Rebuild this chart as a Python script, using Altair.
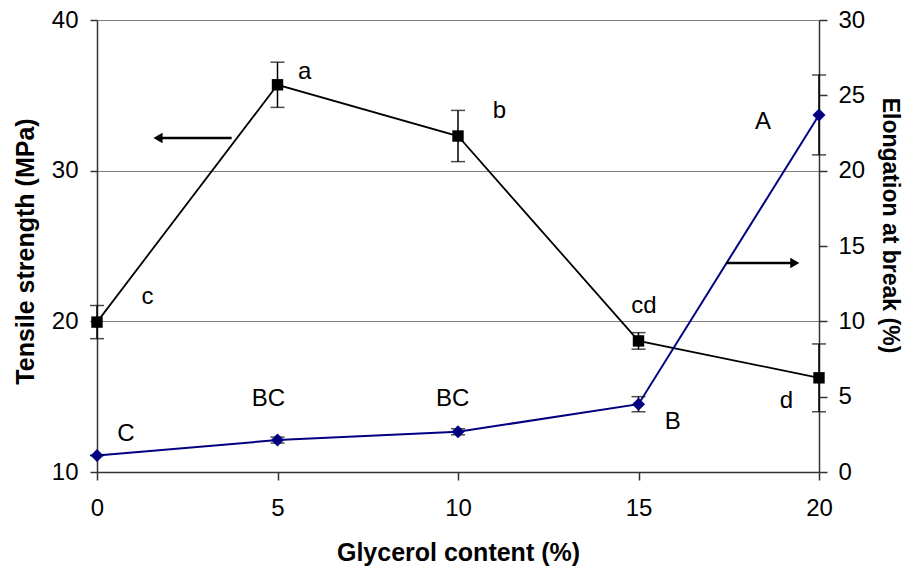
import altair as alt
import pandas as pd

# ---- data ----
glycerol = [0, 5, 10, 15, 20]

tensile = [19.95, 35.7, 32.3, 18.7, 16.25]
tensile_err = [1.1, 1.5, 1.7, 0.55, 2.25]
tensile_letters = ["c", "a", "b", "cd", "d"]
tensile_label_x = [1.4, 5.75, 11.15, 15.15, 19.1]
tensile_label_y = [21.6, 36.55, 33.95, 21.0, 14.7]

elong = [1.1, 2.12, 2.67, 4.5, 23.7]
elong_err = [0.0, 0.2, 0.2, 0.5, 2.65]
elong_letters = ["C", "BC", "BC", "B", "A"]
elong_label_x = [0.8, 4.75, 9.85, 15.95, 18.45]
elong_label_y = [2.5, 4.85, 4.85, 3.35, 23.2]

# arrows (annotation) in data units: [start x, end x, y]
arrow_left = [3.73, 1.69, 32.17]
arrow_right = [17.43, 19.33, 13.87]

x_ticks = [0, 5, 10, 15, 20]
left_ticks = [10, 20, 30, 40]
right_ticks = [0, 5, 10, 15, 20, 25, 30]

FONT = "Liberation Sans"
NAVY = "#000080"

df_t = pd.DataFrame({
    "g": glycerol, "v": tensile,
    "lo": [v - e for v, e in zip(tensile, tensile_err)],
    "hi": [v + e for v, e in zip(tensile, tensile_err)],
    "letter": tensile_letters, "lx": tensile_label_x, "ly": tensile_label_y,
})
df_e = pd.DataFrame({
    "g": glycerol, "v": elong,
    "lo": [v - e for v, e in zip(elong, elong_err)],
    "hi": [v + e for v, e in zip(elong, elong_err)],
    "letter": elong_letters, "lx": elong_label_x, "ly": elong_label_y,
})
df_al = pd.DataFrame({"x": [arrow_left[0]], "x2": [arrow_left[1]], "y": [arrow_left[2]]})
df_ar = pd.DataFrame({"x": [arrow_right[0]], "x2": [arrow_right[1]], "y": [arrow_right[2]]})

xs = alt.Scale(domain=[0, 20], nice=False, zero=False)
ys_left = alt.Scale(domain=[10, 40], nice=False, zero=False)
ys_right = alt.Scale(domain=[0, 30], nice=False, zero=False)

x_axis = alt.Axis(values=x_ticks, title="Glycerol content (%)", grid=False, orient="bottom",
                  tickSize=8, labelPadding=16, titlePadding=20, titleFontSize=25)
yl_axis = alt.Axis(values=left_ticks, title="Tensile strength (MPa)", grid=True, orient="left",
                   gridColor="#808080", gridWidth=1, tickSize=7, labelPadding=12,
                   titlePadding=13, titleY=231, titleFontSize=25)
yr_axis = alt.Axis(values=right_ticks, title="Elongation at break (%)", orient="right",
                   grid=False, tickSize=8, labelPadding=11, titlePadding=13, titleY=205,
                   titleFontSize=23)


def X(field):
    # identical axis on every layer so the shared x axis merges cleanly
    return alt.X(field, type="quantitative", scale=xs, axis=x_axis)


# ---- tensile (left axis) ----
t_base = alt.Chart(df_t)
t_line = t_base.mark_line(color="black", strokeWidth=1.8).encode(
    x=X("g"), y=alt.Y("v:Q", scale=ys_left, axis=yl_axis))
t_rule = t_base.mark_rule(color="black", strokeWidth=1.5).encode(
    x=X("g"), y=alt.Y("lo:Q", scale=ys_left, axis=None), y2="hi:Q")
t_cap_lo = t_base.mark_tick(orient="horizontal", size=14, thickness=1.5, color="black").encode(
    x=X("g"), y=alt.Y("lo:Q", scale=ys_left, axis=None))
t_cap_hi = t_base.mark_tick(orient="horizontal", size=14, thickness=1.5, color="black").encode(
    x=X("g"), y=alt.Y("hi:Q", scale=ys_left, axis=None))
t_pts = t_base.mark_point(shape="square", filled=True, size=130, color="black", opacity=1).encode(
    x=X("g"), y=alt.Y("v:Q", scale=ys_left, axis=None))
t_txt = t_base.mark_text(font=FONT, fontSize=24, color="black", align="center", baseline="middle").encode(
    x=X("lx"), y=alt.Y("ly:Q", scale=ys_left, axis=None), text="letter:N")
al_rule = alt.Chart(df_al).mark_rule(color="black", strokeWidth=2.5).encode(
    x=X("x"), x2="x2:Q", y=alt.Y("y:Q", scale=ys_left, axis=None))
al_head = alt.Chart(df_al).mark_point(shape="triangle-left", filled=True, size=110, color="black", opacity=1).encode(
    x=X("x2"), y=alt.Y("y:Q", scale=ys_left, axis=None))

# ---- elongation (right axis) ----
e_base = alt.Chart(df_e)
e_line = e_base.mark_line(color=NAVY, strokeWidth=2).encode(
    x=X("g"), y=alt.Y("v:Q", scale=ys_right, axis=yr_axis))
e_rule = e_base.mark_rule(color="black", strokeWidth=1.5).encode(
    x=X("g"), y=alt.Y("lo:Q", scale=ys_right, axis=None), y2="hi:Q")
e_cap_lo = e_base.mark_tick(orient="horizontal", size=14, thickness=1.5, color="black").encode(
    x=X("g"), y=alt.Y("lo:Q", scale=ys_right, axis=None))
e_cap_hi = e_base.mark_tick(orient="horizontal", size=14, thickness=1.5, color="black").encode(
    x=X("g"), y=alt.Y("hi:Q", scale=ys_right, axis=None))
e_pts = e_base.mark_point(shape="diamond", filled=True, size=170, color=NAVY, opacity=1).encode(
    x=X("g"), y=alt.Y("v:Q", scale=ys_right, axis=None))
e_txt = e_base.mark_text(font=FONT, fontSize=24, color="black", align="center", baseline="middle").encode(
    x=X("lx"), y=alt.Y("ly:Q", scale=ys_right, axis=None), text="letter:N")
ar_rule = alt.Chart(df_ar).mark_rule(color="black", strokeWidth=2.5).encode(
    x=X("x"), x2="x2:Q", y=alt.Y("y:Q", scale=ys_right, axis=None))
ar_head = alt.Chart(df_ar).mark_point(shape="triangle-right", filled=True, size=110, color="black", opacity=1).encode(
    x=X("x2"), y=alt.Y("y:Q", scale=ys_right, axis=None))

chart = (
    alt.layer(t_line, e_line, t_rule, t_cap_lo, t_cap_hi, t_pts, t_txt, al_rule, al_head,
              e_rule, e_cap_lo, e_cap_hi, e_pts, e_txt, ar_rule, ar_head)
    .resolve_scale(y="independent")
    .properties(
        width=722, height=452,
        autosize=alt.AutoSizeParams(type="none"),
        padding={"left": 97, "top": 20, "right": 87, "bottom": 100},
        background="white",
    )
    .configure_view(stroke=None)
    .configure_axis(
        labelFont=FONT, titleFont=FONT, labelFontSize=24, titleFontSize=24,
        titleFontWeight="bold", labelColor="black", titleColor="black",
        domainColor="#333333", tickColor="#333333", domainWidth=1.5, tickWidth=1.5,
        labelFlush=False,
    )
)

chart.save("out.html", embed_options={"renderer": "svg", "actions": False})
